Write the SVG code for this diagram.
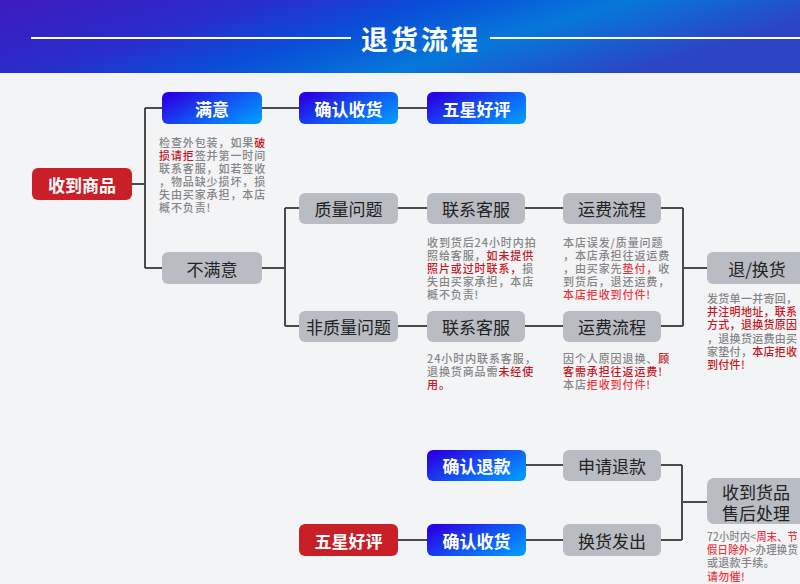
<svg xmlns="http://www.w3.org/2000/svg" width="800" height="584" viewBox="0 0 800 584">
<defs>
<linearGradient id="hdr" x1="0" y1="0" x2="1" y2="0.3">
<stop offset="0" stop-color="#3e1abe"/>
<stop offset="0.3" stop-color="#2a2ccc"/>
<stop offset="0.5" stop-color="#0a4cd8"/>
<stop offset="0.72" stop-color="#0678da"/>
<stop offset="1" stop-color="#2c44c6"/>
</linearGradient>
<linearGradient id="blue" x1="0" y1="0.2" x2="1" y2="0.8">
<stop offset="0" stop-color="#2a00e2"/>
<stop offset="0.5" stop-color="#1450f4"/>
<stop offset="1" stop-color="#0098ff"/>
</linearGradient>
<style>
.lbl{font-family:"Noto Sans CJK SC","Noto Sans",sans-serif;font-size:17px;dominant-baseline:central;text-anchor:middle}
.w{fill:#ffffff;font-weight:bold}
.d{fill:#222222}
.gray{fill:#b9bcc2}
.red{fill:#c81f28}
.note{font-family:"Noto Sans CJK SC","Noto Sans",sans-serif;font-size:11px;font-weight:500;letter-spacing:0.9px;fill:#858585;dominant-baseline:central}
.tight{letter-spacing:0.3px}
.r{fill:#c8161e}
.b{fill:#f2343e}
.ln{stroke:#4a4a4a;stroke-width:2;fill:none}
</style>
</defs>
<rect width="800" height="584" fill="#f3f4f6"/>
<g id="header">
<rect width="800" height="73" fill="url(#hdr)"/>
<line x1="31" y1="38" x2="351" y2="38" stroke="#ffffff" stroke-width="2"/>
<line x1="490" y1="38" x2="800" y2="38" stroke="#ffffff" stroke-width="2"/>
<text x="421" y="38" font-family="'Noto Sans CJK SC',sans-serif" font-size="27" font-weight="bold" letter-spacing="3" fill="#ffffff" text-anchor="middle" dominant-baseline="central">退货流程</text>
</g>
<g id="connectors" class="ln">
<path d="M132 184H145M145 108V268M145 108H162M145 268H162"/>
<path d="M262 108H299M398 108H427"/>
<path d="M262 268H285M285 208V326M285 208H299M285 326H299"/>
<path d="M398 208H427M525 208H563M661 208H683M683 208V326M661 326H683M683 268H707"/>
<path d="M398 326H427M525 326H563"/>
<path d="M526 465H563M398 540H427M526 540H563"/>
<path d="M661 465H682M661 540H682M682 465V540M682 502H707"/>
</g>
<g id="n-receive"><rect x="32" y="168" width="100" height="32" rx="6" class="red"/><text x="82" y="184" class="lbl w">收到商品</text></g>
<g id="n-satisfied"><rect x="162" y="92" width="100" height="32" rx="6" fill="url(#blue)"/><text x="212" y="108" class="lbl w">满意</text></g>
<g id="n-confirm1"><rect x="299" y="92" width="99" height="32" rx="6" fill="url(#blue)"/><text x="348.5" y="108" class="lbl w">确认收货</text></g>
<g id="n-fivestar1"><rect x="427" y="92" width="99" height="32" rx="6" fill="url(#blue)"/><text x="476.5" y="108" class="lbl w">五星好评</text></g>
<g id="n-unsatisfied"><rect x="162" y="252" width="100" height="32" rx="6" class="gray"/><text x="212" y="268" class="lbl d">不满意</text></g>
<g id="n-quality"><rect x="299" y="193" width="99" height="31" rx="6" class="gray"/><text x="348.5" y="208.5" class="lbl d">质量问题</text></g>
<g id="n-cs1"><rect x="427" y="193" width="98" height="31" rx="6" class="gray"/><text x="476" y="208.5" class="lbl d">联系客服</text></g>
<g id="n-fee1"><rect x="563" y="193" width="98" height="31" rx="6" class="gray"/><text x="612" y="208.5" class="lbl d">运费流程</text></g>
<g id="n-nonquality"><rect x="299" y="311" width="99" height="31" rx="6" class="gray"/><text x="348.5" y="326.5" class="lbl d">非质量问题</text></g>
<g id="n-cs2"><rect x="427" y="311" width="98" height="31" rx="6" class="gray"/><text x="476" y="326.5" class="lbl d">联系客服</text></g>
<g id="n-fee2"><rect x="563" y="311" width="98" height="31" rx="6" class="gray"/><text x="612" y="326.5" class="lbl d">运费流程</text></g>
<g id="n-return"><rect x="707" y="252" width="100" height="32" rx="6" class="gray"/><text x="757" y="268" class="lbl d">退/换货</text></g>
<g id="n-confirmrefund"><rect x="427" y="450" width="99" height="31" rx="6" fill="url(#blue)"/><text x="476.5" y="465.5" class="lbl w">确认退款</text></g>
<g id="n-applyrefund"><rect x="563" y="450" width="98" height="31" rx="6" class="gray"/><text x="612" y="465.5" class="lbl d">申请退款</text></g>
<g id="n-fivestar2"><rect x="299" y="524" width="99" height="32" rx="6" class="red"/><text x="348.5" y="540" class="lbl w">五星好评</text></g>
<g id="n-confirm2"><rect x="427" y="524" width="99" height="32" rx="6" fill="url(#blue)"/><text x="476.5" y="540" class="lbl w">确认收货</text></g>
<g id="n-ship"><rect x="563" y="524" width="98" height="32" rx="6" class="gray"/><text x="612" y="540" class="lbl d">换货发出</text></g>
<g id="n-aftersale"><rect x="707" y="478" width="100" height="46" rx="7" class="gray"/><text x="756" y="491" class="lbl d">收到货品</text><text x="756" y="512" class="lbl d">售后处理</text></g>
<g id="note-satisfied">
<text class="note"><tspan x="159" y="142">检查外包装，如果<tspan class="r">破</tspan></tspan><tspan x="159" y="155"><tspan class="r">损请拒</tspan>签并第一时间</tspan><tspan x="159" y="168">联系客服，如若签收</tspan><tspan x="159" y="181">，物品缺少损坏，损</tspan><tspan x="159" y="194">失由买家承担，本店</tspan><tspan x="159" y="207">概不负责!</tspan></text>
</g>
<g id="note-cs1">
<text class="note"><tspan x="427" y="242">收到货后24小时内拍</tspan><tspan x="427" y="255">照给客服，<tspan class="r">如未提供</tspan></tspan><tspan x="427" y="268"><tspan class="r">照片或过时联系，</tspan>损</tspan><tspan x="427" y="281">失由买家承担，本店</tspan><tspan x="427" y="294">概不负责!</tspan></text>
</g>
<g id="note-fee1">
<text class="note"><tspan x="563" y="242">本店误发/质量问题</tspan><tspan x="563" y="255">，本店承担往返运费</tspan><tspan x="563" y="268">，由买家先<tspan class="b">垫付，</tspan>收</tspan><tspan x="563" y="281">到货后，退还运费，</tspan><tspan x="563" y="294" class="b">本店拒收到付件!</tspan></text>
</g>
<g id="note-return">
<text class="note tight"><tspan x="707" y="298">发货单一并寄回，</tspan><tspan x="707" y="311" class="r">并注明地址，联系</tspan><tspan x="707" y="324" class="r">方式，退换货原因</tspan><tspan x="707" y="338">，退换货运费由买</tspan><tspan x="707" y="351">家垫付，<tspan class="r">本店拒收</tspan></tspan><tspan x="707" y="364" class="r">到付件!</tspan></text>
</g>
<g id="note-cs2">
<text class="note"><tspan x="427" y="358">24小时内联系客服，</tspan><tspan x="427" y="371">退换货商品需<tspan class="r">未经使</tspan></tspan><tspan x="427" y="384" class="r">用。</tspan></text>
</g>
<g id="note-fee2">
<text class="note"><tspan x="563" y="358">因个人原因退换、<tspan class="r">顾</tspan></tspan><tspan x="563" y="371" class="r">客需承担往返运费!</tspan><tspan x="563" y="384">本店<tspan class="b">拒收到付件!</tspan></tspan></text>
</g>
<g id="note-aftersale">
<text class="note tight"><tspan x="707" y="536" textLength="91" lengthAdjust="spacingAndGlyphs">72小时内&lt;<tspan class="b">周末、节</tspan></tspan><tspan x="707" y="549" textLength="91" lengthAdjust="spacingAndGlyphs"><tspan class="b">假日除外</tspan>&gt;办理换货</tspan><tspan x="707" y="562">或退款手续。</tspan><tspan x="707" y="576" class="b">请勿催!</tspan></text>
</g>
</svg>
